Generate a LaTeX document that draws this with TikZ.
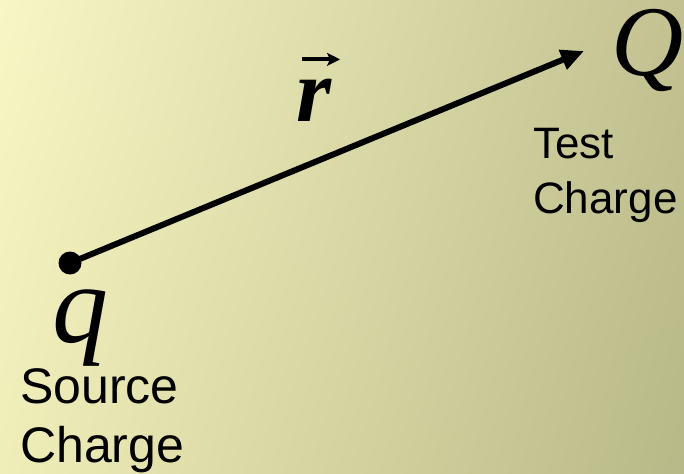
\documentclass[tikz,border=0pt]{standalone}
\usepackage{fontspec}
\setmainfont{Liberation Serif}
\newfontfamily\labelsans{Liberation Sans}
\usetikzlibrary{arrows.meta,shadings}
\definecolor{bgUL}{HTML}{F7F7C5}
\definecolor{bgUR}{HTML}{C3C191}
\definecolor{bgLL}{HTML}{EFEDB8}
\definecolor{bgLR}{HTML}{B8B988}
\tikzset{
  chargevar/.style={inner sep=0pt, anchor=base, font=\itshape},
  chargelabel/.style={inner sep=0pt, anchor=base west, align=left, font=\labelsans},
  vecline/.style={line width=6pt, -{Triangle[length=23pt,width=20pt]}},
}
\begin{document}
\begin{tikzpicture}[x=1pt,y=-1pt]
\shade[upper left=bgUL, upper right=bgUR, lower left=bgLL, lower right=bgLR] (0,0) rectangle (684,473);
\useasboundingbox (0,0) rectangle (684,473);
% source charge dot and vector
\node[circle, fill=black, minimum size=23pt, inner sep=0pt] (src) at (70,263) {};
\coordinate (tip) at (584,51);
\draw[vecline] (src.center) -- (tip);
% symbols
\node[chargevar, font=\itshape\fontsize{112}{112}\selectfont] (q) at (80,342) {q};
\node[chargevar, font=\itshape\fontsize{100}{100}\selectfont] (Q) at (648,76) {Q};
\node[chargevar, font=\bfseries\itshape\fontsize{90}{90}\selectfont] (r) at (314,122) {r};
\draw[line width=4pt, -{Stealth[length=13pt,width=13pt,inset=3pt]}] ([xshift=-12pt,yshift=20pt]r.north) -- ([xshift=26pt,yshift=20pt]r.north);
% labels
\node[chargelabel, font=\labelsans\fontsize{50}{59}\selectfont] (srclabel) at (20,462) {Source\\Charge};
\node[chargelabel, font=\labelsans\fontsize{44}{55}\selectfont] (testlabel) at (533,213) {Test\\Charge};
\end{tikzpicture}
\end{document}
